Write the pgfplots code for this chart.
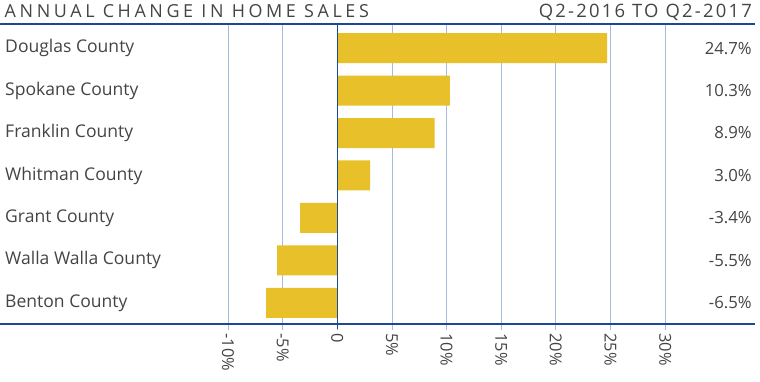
\documentclass[border=0pt]{standalone}
\usepackage{fontspec}
\setmainfont{Open Sans}
\usepackage{pgfplots}
\pgfplotsset{compat=1.18}
\definecolor{bargold}{HTML}{E8C12A}
\definecolor{txtgray}{HTML}{444444}
\definecolor{darkblue}{HTML}{1C4A8E}
\definecolor{gridblue}{HTML}{A3BCDB}
\begin{document}
\begin{tikzpicture}
\begin{axis}[
  scale only axis,
  width=755bp, height=300bp,
  xmin=-30.86, xmax=38.22,
  ymin=-0.57, ymax=6.5,
  y dir=reverse,
  axis line style={draw=none},
  ytick=\empty,
  xtick={-10,-5,0,5,10,15,20,25,30},
  xticklabels={-10\%,-5\%,0,5\%,10\%,15\%,20\%,25\%,30\%},
  xtick pos=bottom,
  tick align=outside,
  major tick length=6bp,
  tick style={gridblue, line width=0.8pt},
  xmajorgrids,
  major grid style={gridblue, line width=0.8pt},
  x tick label style={rotate=-90, anchor=west, font=\fontsize{16.5}{19}\selectfont, text=txtgray, xshift=0bp},
  /pgf/number format/assume math mode=true,
  clip=false,
]
\addplot[xbar, bar width=30bp, fill=bargold, draw=none, bar shift=0pt] coordinates {
 (24.7,0) (10.3,1) (8.9,2) (3.0,3) (-3.4,4) (-5.5,5) (-6.5,6)
};
\draw[darkblue, line width=2pt] (rel axis cs:0,0) -- (rel axis cs:1,0);
\draw[darkblue, line width=2pt] (rel axis cs:0,1) -- (rel axis cs:1,1);
\draw[darkblue, line width=1.5pt] (axis cs:0,-0.57) -- (axis cs:0,6.62);
\foreach \n/\i in {Douglas County/0, Spokane County/1, Franklin County/2, Whitman County/3, Grant County/4, Walla Walla County/5, Benton County/6}{
  \edef\tmp{\noexpand\node[anchor=west, text=txtgray, font=\noexpand\fontsize{17.6}{20}\noexpand\selectfont, inner sep=0pt] at (axis cs:-30.4,\i) {\n};}
  \tmp
}
\foreach \v/\i in {24.7\%/0, 10.3\%/1, 8.9\%/2, 3.0\%/3, -3.4\%/4, -5.5\%/5, -6.5\%/6}{
  \edef\tmp{\noexpand\node[anchor=east, text=txtgray, font=\noexpand\fontsize{16.8}{19}\noexpand\selectfont, inner sep=0pt] at (axis cs:37.94,\i) {\v};}
  \tmp
}
\node[anchor=base west, text=txtgray, inner sep=0pt, font=\addfontfeature{LetterSpace=20}\fontsize{18}{21}\selectfont] at (axis description cs:0.006,1.02) {ANNUAL CHANGE IN HOME SALES};
\node[anchor=base east, text=txtgray, inner sep=0pt, font=\addfontfeature{LetterSpace=12}\fontsize{18.5}{21}\selectfont] at (axis description cs:0.996,1.02) {Q2-2016 TO Q2-2017};
\end{axis}
\pgfresetboundingbox
\path[use as bounding box] (0,-58bp) rectangle (760bp,324bp);
\end{tikzpicture}
\end{document}
